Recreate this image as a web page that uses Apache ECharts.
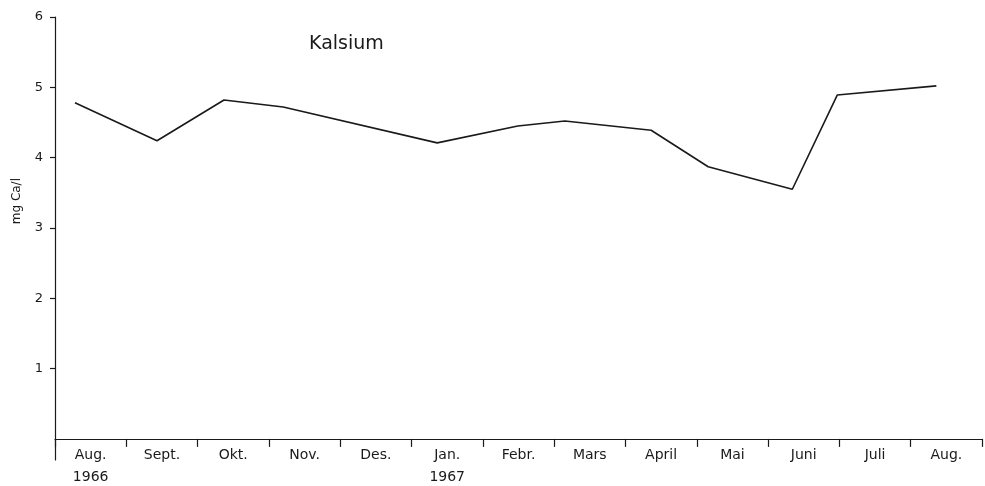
<!DOCTYPE html>
<html>
<head>
<meta charset="utf-8">
<script src="https://cdn.jsdelivr.net/npm/echarts@6/dist/echarts.min.js"></script>
<style>
html,body{margin:0;padding:0;background:#fff;}
#c{width:985px;height:486px;}
</style>
</head>
<body>
<div id="c"></div>
<script>
// Month category labels (13 month intervals)
const monthLabels = ['Aug.\n1966','Sept.','Okt.','Nov.','Des.','Jan.\n1967','Febr.','Mars','April','Mai','Juni','Juli','Aug.'];
// Sampling time, in months from start of Aug 1966
const sampleTime = [0.28, 1.43, 2.37, 3.20, 5.36, 6.49, 7.15, 8.36, 9.16, 10.34, 10.97, 12.36];
// Calcium, mg Ca/l
const calcium = [4.78, 4.24, 4.82, 4.72, 4.21, 4.45, 4.52, 4.39, 3.87, 3.55, 4.89, 5.02];
const yTicks = [1, 2, 3, 4, 5, 6];

const chart = echarts.init(document.getElementById('c'), null, {renderer: 'canvas'});
const ink = '#1a1a1a';
const font = '"DejaVu Sans", sans-serif';

chart.setOption({
  animation: false,
  backgroundColor: '#ffffff',
  title: {
    text: 'Kalsium',
    left: 304, top: 30,
    textStyle: {fontFamily: font, fontSize: 19, fontWeight: 'normal', color: ink}
  },
  graphic: [{
    type: 'text', left: 11, top: 178, rotation: Math.PI / 2,
    style: {text: 'mg Ca/l', font: '12px ' + font, fill: ink}
  }],
  grid: {left: 55, right: 3, top: 17, bottom: 26, containLabel: false, outerBoundsMode: 'none'},
  xAxis: [{
    type: 'value', min: 0, max: 13, show: false,
    axisLine: {show: false, onZero: false}
  }, {
    type: 'category',
    data: monthLabels,
    boundaryGap: true,
    position: 'bottom',
    axisLine: {show: true, onZero: true, onZeroAxisIndex: 0, lineStyle: {color: ink, width: 1.2}},
    axisTick: {show: true, inside: false, length: 8, alignWithLabel: false, lineStyle: {color: ink, width: 1.2}},
    axisLabel: {
      interval: 0, margin: -16, color: ink, fontFamily: font, fontSize: 14, lineHeight: 22
    },
    splitLine: {show: false}
  }],
  yAxis: {
    type: 'value', min: -0.3, max: 6,
    axisLine: {show: true, onZero: false, lineStyle: {color: ink, width: 1.2}},
    axisTick: {show: true, inside: false, length: 5, customValues: yTicks, lineStyle: {color: ink, width: 1.2}},
    axisLabel: {show: true, customValues: yTicks, margin: 12, color: ink, fontFamily: font, fontSize: 13},
    splitLine: {show: false}
  },
  series: [{
    type: 'line',
    xAxisIndex: 0,
    data: sampleTime.map((t, i) => [t, calcium[i]]),
    showSymbol: false,
    lineStyle: {color: ink, width: 1.6},
    itemStyle: {color: ink}
  }]
});
</script>
</body>
</html>
